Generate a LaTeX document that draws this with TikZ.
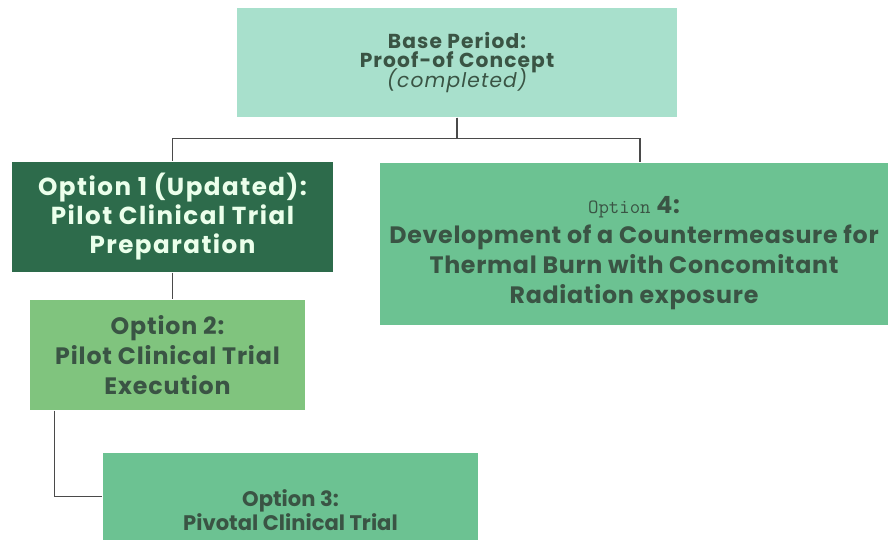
\documentclass[tikz,border=0pt]{standalone}
\usepackage{fontspec}
\setmainfont{Poppins}
\usepackage{tikz}
\usetikzlibrary{positioning}

\definecolor{baseaqua}{HTML}{A8E0CC}
\definecolor{darkgreen}{HTML}{2D6B4B}
\definecolor{leafgreen}{HTML}{80C47E}
\definecolor{seagreen}{HTML}{6CC292}
\definecolor{inkgreen}{HTML}{3A5444}
\definecolor{linegray}{HTML}{4A4A4A}

\newcommand{\spaced}[1]{\addfontfeature{LetterSpace=#1}}
\newcommand{\tightlines}{\lineskiplimit -10pt\relax}

\begin{document}
\begin{tikzpicture}[thick,
  opt box/.style={rectangle,inner sep=0pt,align=center,text=inkgreen},
  link/.style={draw=linegray,line width=0.9pt}]

  \useasboundingbox (0,0) rectangle (17.76,-10.86);

  \node[opt box,fill=baseaqua,minimum width=8.8cm,minimum height=2.18cm,
        font=\bfseries\fontsize{11.5}{11}\selectfont\spaced{5.5}\tightlines] (base) at (9.14,-1.25)
        {Base Period:\\Proof-of Concept\\{\mdseries\itshape (completed)}};
  \node[opt box,fill=darkgreen,text=white!92!green,minimum width=6.42cm,minimum height=2.2cm,
        font=\bfseries\fontsize{14}{16.5}\selectfont\spaced{6}] (opt1) at (3.45,-4.34)
        {Option 1 (Updated):\\Pilot Clinical Trial\\Preparation};
  \node[opt box,fill=seagreen,minimum width=10.16cm,minimum height=3.24cm,
        font=\bfseries\fontsize{13.5}{17}\selectfont\spaced{3}] (opt4) at (12.68,-4.88)
        {\rule{0pt}{20pt}{\ttfamily\mdseries\fontsize{11.5}{11}\selectfont Option} 4:\\Development of a Countermeasure for\\Thermal Burn with Concomitant\\Radiation exposure};
  \node[opt box,fill=leafgreen,minimum width=5.5cm,minimum height=2.2cm,
        font=\bfseries\fontsize{13.5}{17}\selectfont\spaced{3.5}] (opt2) at (3.35,-7.1)
        {Option 2:\\Pilot Clinical Trial\\Execution};
  \node[opt box,fill=seagreen,minimum width=7.5cm,minimum height=1.74cm,
        font=\bfseries\fontsize{12}{14}\selectfont] (opt3) at (5.81,-9.93)
        {\rule{0pt}{25pt}Option 3:\\Pivotal Clinical Trial};

  % tree links
  \path[link] (base.south) -- ++(0,-0.42) -| (opt1.north);
  \path[link] (base.south) -- ++(0,-0.42) -| ([xshift=0.12cm]opt4.north);
  \path[link] (opt1.south) -- (opt1.south |- opt2.north);
  \path[link] ([xshift=0.5cm]opt2.south west) |- (opt3.west);
\end{tikzpicture}
\end{document}
